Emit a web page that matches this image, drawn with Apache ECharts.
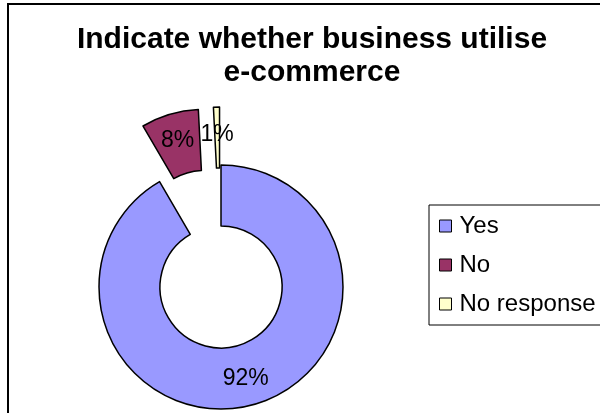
<!DOCTYPE html>
<html>
<head>
<meta charset="utf-8">
<script src="https://cdn.jsdelivr.net/npm/echarts@6/dist/echarts.min.js"></script>
<style>html,body{margin:0;padding:0;background:#fff}#c{width:600px;height:413px}</style>
</head>
<body>
<div id="c"></div>
<script>
const titleText = 'Indicate whether business utilise\ne-commerce';
const categories = ['Yes', 'No', 'No response'];
const values = [91.6, 7.6, 0.8];
const exploded = [false, true, true];
const colors = ['#9999FF', '#993366', '#FFFFCC'];

const FONT = '"Liberation Sans", Arial, sans-serif';

const chart = echarts.init(document.getElementById('c'), null, {renderer: 'canvas'});
chart.setOption({
  animation: false,
  backgroundColor: '#ffffff',
  color: colors,
  graphic: [{
    type: 'rect', silent: true, z: -10,
    shape: {x: 8, y: 4, width: 700, height: 500},
    style: {fill: 'none', stroke: '#000', lineWidth: 2}
  }],
  title: {
    text: titleText,
    left: 312,
    textAlign: 'center',
    top: 23,
    padding: 0,
    textStyle: {fontFamily: FONT, fontSize: 30, fontWeight: 'bold', color: '#000', lineHeight: 33}
  },
  legend: {
    orient: 'vertical',
    left: 429,
    top: 205,
    padding: [9, 12, 9, 10],
    itemGap: 15,
    itemWidth: 12,
    itemHeight: 12,
    icon: 'rect',
    borderColor: '#000',
    borderWidth: 1,
    itemStyle: {borderColor: '#000', borderWidth: 1},
    textStyle: {fontFamily: FONT, fontSize: 24, color: '#000', padding: [0, 0, 0, 3]},
    data: categories
  },
  series: [{
    type: 'pie',
    center: [221, 287],
    radius: [61, 122],
    startAngle: 90,
    clockwise: true,
    selectedMode: 'multiple',
    selectedOffset: 58,
    avoidLabelOverlap: false,
    minShowLabelAngle: 0,
    labelLayout: {hideOverlap: false},
    silent: true,
    z: 2,
    itemStyle: {borderColor: '#000', borderWidth: 1.5},
    select: {itemStyle: {borderColor: '#000', borderWidth: 1.5}},
    label: {
      show: true, position: 'inside', overflow: 'none',
      fontFamily: FONT, fontSize: 23, color: '#000',
      formatter: p => Math.round(p.value) + '%'
    },
    labelLine: {show: false},
    data: categories.map((c, i) => ({name: c, value: values[i], selected: exploded[i],
      itemStyle: {color: colors[i]}, select: {itemStyle: {color: colors[i]}}}))
  }]
});
</script>
</body>
</html>
